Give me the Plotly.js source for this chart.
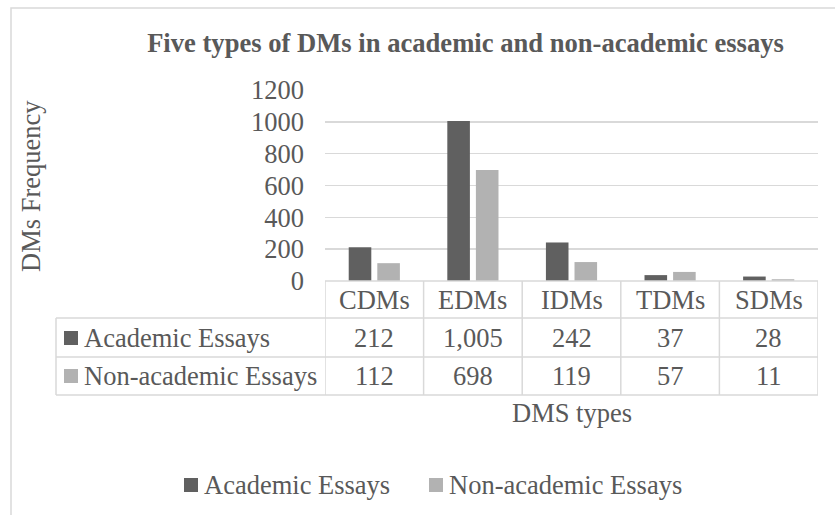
<!DOCTYPE html>
<html>
<head>
<meta charset="utf-8">
<script src="https://cdn.plot.ly/plotly-3.0.1.min.js"></script>
<style>html,body{margin:0;padding:0;background:#fff;}#chart{width:835px;height:515px;}</style>
</head>
<body>
<div id="chart"></div>
<script>
// ---- data ----
var categories = ["CDMs", "EDMs", "IDMs", "TDMs", "SDMs"];
var seriesNames = ["Academic Essays", "Non-academic Essays"];
var academic = [212, 1005, 242, 37, 28];
var nonAcademic = [112, 698, 119, 57, 11];
var yTicks = [0, 200, 400, 600, 800, 1000, 1200];

// ---- styling / geometry ----
var W = 835, H = 515;
var L = 325, R = 818, T = 90, B = 281;
var colors = ["#606060", "#b2b2b2"];
var txt = "#595959";
var lineC = "#d9d9d9";
var FONT = "Liberation Serif, Times New Roman, serif";
var FS = 26.5;
function px(x) { return (x - L) / (R - L); }
function py(y) { return (B - y) / (B - T); }

var traces = [
  {type: "bar", name: seriesNames[0], x: categories, y: academic, marker: {color: colors[0]}, hoverinfo: "x+y+name"},
  {type: "bar", name: seriesNames[1], x: categories, y: nonAcademic, marker: {color: colors[1]}, hoverinfo: "x+y+name"}
];

var rowY = [300, 338, 376];
var shapes = [];
var annotations = [];

// outer chart border
shapes.push({type: "rect", xref: "paper", yref: "paper", x0: px(11), x1: px(845), y0: py(8), y1: py(525),
  line: {color: lineC, width: 1.5}, layer: "below"});

// table horizontal lines
shapes.push({type: "line", xref: "x", yref: "paper", x0: -0.5, x1: 4.5, y0: py(281), y1: py(281), line: {color: lineC, width: 1.5}});
[318, 357, 395].forEach(function (yy) {
  shapes.push({type: "line", xref: "paper", yref: "paper", x0: px(56), x1: 1, y0: py(yy), y1: py(yy), line: {color: lineC, width: 1.5}});
});
// table vertical lines
for (var i = 0; i <= categories.length; i++) {
  shapes.push({type: "line", xref: "x", yref: "paper", x0: i - 0.5, x1: i - 0.5, y0: py(281), y1: py(395), line: {color: lineC, width: 1.5}});
}
shapes.push({type: "line", xref: "paper", yref: "paper", x0: px(56), x1: px(56), y0: py(318), y1: py(395), line: {color: lineC, width: 1.5}});

// table header and values
var rows = [academic, nonAcademic];
categories.forEach(function (c, i) {
  annotations.push({xref: "x", yref: "paper", x: i, y: py(rowY[0]), text: c, showarrow: false,
    font: {family: FONT, size: FS, color: txt}, xanchor: "center", yanchor: "middle"});
  rows.forEach(function (r, k) {
    annotations.push({xref: "x", yref: "paper", x: i, y: py(rowY[k + 1]), text: r[i].toLocaleString("en-US"), showarrow: false,
      font: {family: FONT, size: FS, color: txt}, xanchor: "center", yanchor: "middle"});
  });
});
// table row labels with keys
seriesNames.forEach(function (n, k) {
  var yc = rowY[k + 1];
  shapes.push({type: "rect", xref: "paper", yref: "paper", x0: px(64), x1: px(78), y0: py(yc + 7), y1: py(yc - 7),
    fillcolor: colors[k], line: {width: 0}});
  annotations.push({xref: "paper", yref: "paper", x: px(82), y: py(yc), text: n, showarrow: false,
    font: {family: FONT, size: FS, color: txt}, xanchor: "left", yanchor: "middle"});
});

// x axis title
annotations.push({xref: "paper", yref: "paper", x: 0.5, y: py(413), text: "DMS types", showarrow: false,
  font: {family: FONT, size: FS, color: txt}, xanchor: "center", yanchor: "middle"});
// y axis title
annotations.push({xref: "paper", yref: "paper", x: px(31), y: py(186), text: "DMs Frequency", showarrow: false, textangle: -90,
  font: {family: FONT, size: FS, color: txt}, xanchor: "center", yanchor: "middle"});

// bottom legend
var legendKeys = [184, 429];
seriesNames.forEach(function (n, k) {
  var x0 = legendKeys[k];
  shapes.push({type: "rect", xref: "paper", yref: "paper", x0: px(x0), x1: px(x0 + 14), y0: py(492), y1: py(478),
    fillcolor: colors[k], line: {width: 0}});
  annotations.push({xref: "paper", yref: "paper", x: px(x0 + 18), y: py(485), text: n, showarrow: false,
    font: {family: FONT, size: FS, color: txt}, xanchor: "left", yanchor: "middle"});
});

var layout = {
  width: W, height: H,
  margin: {l: L, r: W - R, t: T, b: H - B, pad: 0},
  paper_bgcolor: "#ffffff", plot_bgcolor: "#ffffff",
  showlegend: false,
  barmode: "group", bargap: 0.42, bargroupgap: 0.21,
  title: {text: "<b>Five types of DMs in academic and non-academic essays</b>", xref: "paper", x: px(465.5), xanchor: "center",
    yref: "container", y: 1 - 43 / H, yanchor: "middle", font: {family: FONT, size: 26.6, color: txt}},
  xaxis: {type: "category", range: [-0.5, 4.5], showticklabels: false, showgrid: false, zeroline: false, showline: false, ticks: "", fixedrange: true},
  yaxis: {range: [0, 1200], tickvals: yTicks, ticktext: yTicks.map(String), showgrid: true, gridcolor: lineC, gridwidth: 1.5,
    zeroline: false, showline: false, ticks: "", ticklabelstandoff: 20,
    tickfont: {family: FONT, size: FS, color: txt}, fixedrange: true},
  shapes: shapes,
  annotations: annotations,
  font: {family: FONT, color: txt}
};

Plotly.newPlot("chart", traces, layout, {displayModeBar: false, staticPlot: true});
</script>
</body>
</html>
